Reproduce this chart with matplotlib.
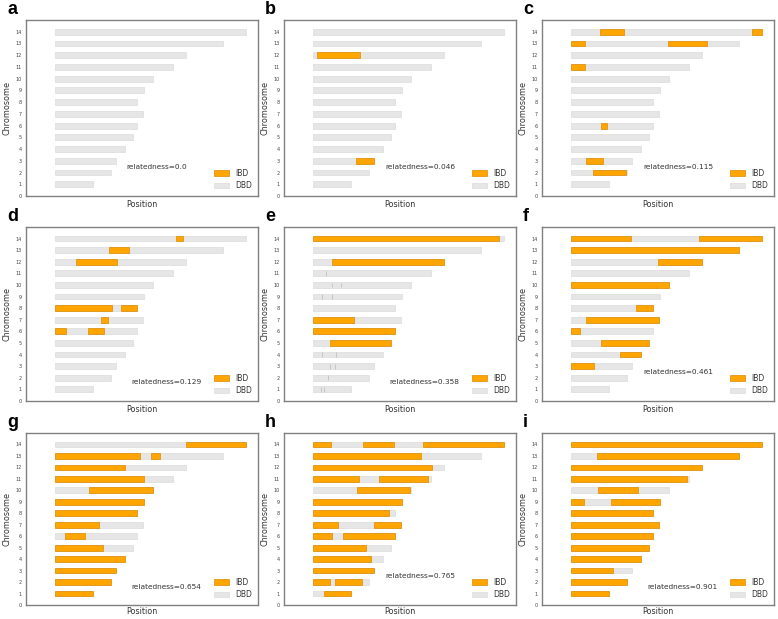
import matplotlib
matplotlib.use('Agg')
import matplotlib.pyplot as plt
from matplotlib.patches import Patch

# chromosome lengths (Mb), chr 1..14
chrom = list(range(1, 15))
chrom_len = [0.65, 0.96, 1.06, 1.20, 1.35, 1.42, 1.51, 1.42, 1.54, 1.69, 2.03, 2.26, 2.89, 3.29]

# IBD segments per panel: (chromosome, start, end) in Mb
ibd_a = []
ibd_b = [(12, 0.07, 0.81), (3, 0.74, 1.06)]
ibd_c = [(14, 0.50, 0.92), (14, 3.12, 3.29), (13, 0.0, 0.24), (13, 1.67, 2.34),
         (11, 0.0, 0.24), (6, 0.52, 0.62), (3, 0.25, 0.55), (2, 0.38, 0.95)]
ibd_d = [(14, 2.08, 2.21), (13, 0.93, 1.28), (12, 0.37, 1.07), (8, 0.0, 0.98),
         (8, 1.13, 1.42), (7, 0.80, 0.91), (6, 0.0, 0.19), (6, 0.57, 0.85)]
ibd_e = [(14, 0.0, 3.21), (12, 0.33, 2.26), (7, 0.0, 0.71), (6, 0.0, 1.42), (5, 0.29, 1.35)]
ibd_f = [(14, 0.0, 1.04), (14, 2.21, 3.29), (13, 0.0, 2.89), (12, 1.50, 2.26),
         (10, 0.0, 1.69), (8, 1.12, 1.42), (7, 0.26, 1.51), (6, 0.0, 0.15),
         (5, 0.51, 1.35), (4, 0.85, 1.20), (3, 0.0, 0.40)]
ibd_g = [(14, 2.25, 3.29), (13, 0.0, 1.47), (13, 1.66, 1.81), (12, 0.0, 1.21),
         (11, 0.0, 1.54), (10, 0.58, 1.69), (9, 0.0, 1.54), (8, 0.0, 1.42),
         (7, 0.0, 0.76), (6, 0.18, 0.52), (5, 0.0, 0.83), (4, 0.0, 1.20),
         (3, 0.0, 1.06), (2, 0.0, 0.96), (1, 0.0, 0.65)]
ibd_h = [(14, 0.0, 0.31), (14, 0.86, 1.39), (14, 1.89, 3.29), (13, 0.0, 1.87),
         (12, 0.0, 2.05), (11, 0.0, 0.79), (11, 1.13, 1.98), (10, 0.76, 1.68),
         (9, 0.0, 1.54), (8, 0.0, 1.31), (7, 0.0, 0.43), (7, 1.06, 1.51),
         (6, 0.0, 0.32), (6, 0.52, 1.42), (5, 0.0, 0.92), (4, 0.0, 1.00),
         (3, 0.0, 1.06), (2, 0.0, 0.29), (2, 0.38, 0.85), (1, 0.19, 0.65)]
ibd_i = [(14, 0.0, 3.29), (13, 0.44, 2.89), (12, 0.0, 2.26), (11, 0.0, 2.00),
         (10, 0.47, 1.15), (9, 0.0, 0.23), (9, 0.69, 1.54), (8, 0.0, 1.42),
         (7, 0.0, 1.51), (6, 0.0, 1.42), (5, 0.0, 1.35), (4, 0.0, 1.20),
         (3, 0.0, 0.72), (2, 0.0, 0.96), (1, 0.0, 0.65)]

# faint segment boundaries visible on DBD bars in panel e
breaks_e = [(11, 0.22), (10, 0.33), (10, 0.49), (9, 0.16), (9, 0.33), (4, 0.16),
            (4, 0.40), (3, 0.30), (3, 0.38), (2, 0.26), (1, 0.13), (1, 0.19)]

panel_labels = ['a', 'b', 'c', 'd', 'e', 'f', 'g', 'h', 'i']
relatedness = ['0.0', '0.046', '0.115', '0.129', '0.358', '0.461', '0.654', '0.765', '0.901']
segments = [ibd_a, ibd_b, ibd_c, ibd_d, ibd_e, ibd_f, ibd_g, ibd_h, ibd_i]

# layout (pixels) and text placement
W, H = 778, 619
col_left = [26, 284, 542]
row_top = [20, 227, 433]
row_h = [176, 174, 172]
ax_w = 232
text_pos = [(1.23, 2.5), (1.24, 2.5), (1.24, 2.5), (1.32, 1.6), (1.32, 1.6),
            (1.24, 2.5), (1.32, 1.6), (1.24, 2.5), (1.32, 1.6)]

ibd_color = '#ffa500'
ibd_edge = '#e08a00'
dbd_color = '#e6e6e6'
dbd_edge = '#dcdcdc'

fig = plt.figure(figsize=(W / 100, H / 100), dpi=100)

for k in range(9):
    r, c = divmod(k, 3)
    x0 = col_left[c] / W
    y0 = 1 - (row_top[r] + row_h[r]) / H
    ax = fig.add_axes([x0, y0, ax_w / W, row_h[r] / H])

    ax.barh(chrom, chrom_len, left=0, height=0.5, color=dbd_color,
            edgecolor=dbd_edge, linewidth=0.5)
    for ch, s, e in segments[k]:
        ax.barh(ch, e - s, left=s, height=0.5, color=ibd_color,
                edgecolor=ibd_edge, linewidth=0.5)
    if panel_labels[k] == 'e':
        for ch, xb in breaks_e:
            ax.vlines(xb, ch - 0.2, ch + 0.2, color='#c4c4c4', linewidth=0.7)

    ax.set_xlim(-0.5, 3.5)
    ax.set_ylim(0, 15)
    ax.set_yticks(range(0, 15))
    ax.set_xticks([])
    ax.tick_params(axis='y', length=0, labelsize=3.5, pad=3, labelcolor='#444444')
    for sp in ax.spines.values():
        sp.set_color('#808080')
        sp.set_linewidth(1.0)
    ax.set_xlabel('Position', fontsize=5.8, labelpad=1.5 if r == 2 else 3, color='#333333')
    ax.set_ylabel('Chromosome', fontsize=5.8, labelpad=3, color='#333333')

    tx, ty = text_pos[k]
    ax.text(tx, ty, 'relatedness=' + relatedness[k], fontsize=5.3,
            va='center', ha='left', color='#333333')

    handles = [Patch(facecolor=ibd_color, edgecolor=ibd_edge, linewidth=0.5, label='IBD'),
               Patch(facecolor=dbd_color, edgecolor=dbd_edge, linewidth=0.5, label='DBD')]
    leg = ax.legend(handles=handles, loc='lower right', frameon=False, fontsize=5.5,
                    handlelength=2.0, handleheight=0.75, labelspacing=0.45,
                    borderaxespad=0.35, handletextpad=0.8)
    for t in leg.get_texts():
        t.set_color('#333333')

    fig.text((col_left[c] - 19) / W, 1 - (row_top[r] - 2) / H, panel_labels[k],
             fontsize=13, fontweight='bold', family='Liberation Sans',
             va='bottom', ha='left')

fig.savefig('out.png', dpi=100)
